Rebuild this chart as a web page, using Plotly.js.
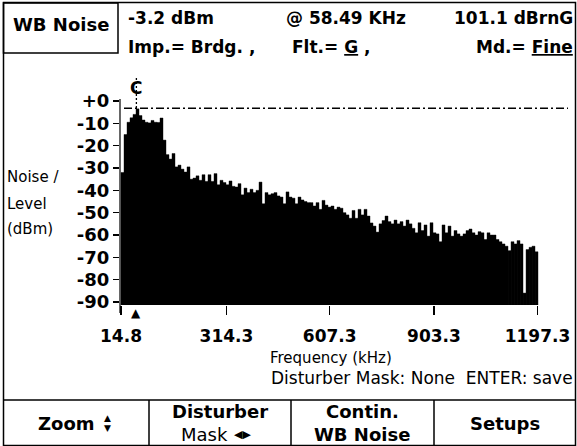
<!DOCTYPE html>
<html>
<head>
<meta charset="utf-8">
<script src="https://cdn.plot.ly/plotly-3.0.1.min.js"></script>
<style>html,body{margin:0;padding:0;background:#fff;}#chart{width:577px;height:446px;}</style>
</head>
<body>
<div id="chart"></div>
<script>
// ---- data ----
const freqStartKHz = 14.8;
const binWidthKHz = 8.518;
const noiseLevelDbm = [
 -32, -15, -9.5, -7.5, -6, -3.5, -6.5, -8.5, -9.5, -9.8,
 -8.7, -9.5, -9.6, -7.6, -17.5, -24, -26, -23.5, -29.5, -28.7,
 -30.5, -31.8, -29.5, -35, -34.5, -33.5, -35.5, -33, -36, -33,
 -36, -32.5, -37.5, -35.5, -36.5, -37.5, -35.8, -38.2, -38.5, -37,
 -42, -39, -41, -39.5, -41, -40, -36.3, -46, -41, -42,
 -41.5, -41, -42.5, -43, -46, -40.7, -43, -43.5, -46, -43,
 -44.3, -45, -45.5, -45.5, -47, -45.5, -48.5, -44.5, -46.6, -47.5,
 -47, -48.5, -47.5, -48, -50, -51, -52.5, -49, -52.5, -48.5,
 -51, -48.5, -51.5, -54.6, -56, -58.7, -55, -53.5, -51.5, -54,
 -55, -53.3, -55, -54, -56, -53.3, -55, -57, -59, -54.5,
 -58, -55.5, -60.5, -54.5, -59, -59.5, -63, -55.5, -59, -56,
 -60.5, -58, -59.5, -60.5, -59.5, -58, -57.3, -59, -60, -58.5,
 -59, -62, -59, -60, -60, -62, -63, -64, -65, -67,
 -63, -64, -62.5, -64, -86, -66.5, -65.5, -65, -67.5
];
const yTickVals = [0, -10, -20, -30, -40, -50, -60, -70, -80, -90];
const yTickText = ['+0', '-10', '-20', '-30', '-40', '-50', '-60', '-70', '-80', '-90'];
const xTickVals = [14.8, 314.3, 607.3, 903.3, 1197.3];
const xTickText = ['14.8', '314.3', '607.3', '903.3', '1197.3'];
const peakLevelDbm = -3.2;
const peakFreqKHz = 58.49;

// ---- layout geometry (pixels) ----
const W = 577, H = 446;
const L = 120, R = 568, T = 92, B = 305;
const YMIN = -91.34, YMAX = 4.03;
const XMIN = 11.96, XMAX = 1283.9;
const px = x => (x - L) / (R - L);
const py = y => (B - y) / (B - T);

const FB = 'DejaVu Sans, Verdana, sans-serif';

const trace = {
  type: 'bar',
  x0: freqStartKHz + binWidthKHz / 2,
  dx: binWidthKHz,
  y: noiseLevelDbm.map(v => v - YMIN),
  base: YMIN,
  marker: {color: '#000', line: {color: '#000', width: 0.4}},
  hoverinfo: 'skip'
};

const lineS = (x0, y0, x1, y1, w) => ({type: 'line', xref: 'paper', yref: 'paper',
  x0: px(x0), y0: py(y0), x1: px(x1), y1: py(y1), line: {color: '#000', width: w || 1}});

const shapes = [
  {type: 'rect', xref: 'paper', yref: 'paper', x0: px(3.5), x1: px(575.5), y0: py(2.5), y1: py(445.5), line: {color: '#000', width: 1.5}},
  {type: 'rect', xref: 'paper', yref: 'paper', x0: px(3.5), x1: px(118), y0: py(3), y1: py(53), line: {color: '#000', width: 1.5}},
  lineS(120, 99, 120, 313, 1.2),
  lineS(3, 400, 576, 400, 1.5),
  lineS(149, 400, 149, 446, 1.5),
  lineS(291, 400, 291, 446, 1.5),
  lineS(434, 400, 434, 446, 1.5),
  {type: 'line', xref: 'paper', yref: 'y', x0: px(124), x1: 1, y0: peakLevelDbm, y1: peakLevelDbm,
   line: {color: '#000', width: 1.5, dash: '8px,3px,2px,3px'}},
  {type: 'line', xref: 'x', yref: 'paper', x0: peakFreqKHz, x1: peakFreqKHz, y0: py(108), y1: py(78),
   line: {color: '#000', width: 1.3, dash: '2px,2px'}}
];

const ann = (text, x, y, opts) => Object.assign({
  text: text, xref: 'paper', yref: 'paper', x: px(x), y: py(y), showarrow: false,
  xanchor: 'left', yanchor: 'middle', font: {family: FB, size: 16, color: '#000'}
}, opts || {});
const bold = (s, size) => ({family: FB, size: size || 16, color: '#000', weight: 'bold'});
const reg = (s) => ({family: FB, size: s || 14, color: '#000'});

const annotations = [
  ann('WB Noise', 61, 25, {xanchor: 'center', font: bold(0, 18)}),
  ann('-3.2 dBm', 126, 18, {font: bold(0, 17)}),
  ann('@ 58.49 KHz', 284, 18, {font: bold(0, 17)}),
  ann('101.1 dBrnG', 575, 18, {xanchor: 'right', font: bold(0, 17)}),
  ann('Imp.= Brdg. ,', 126, 47, {font: bold(0, 17)}),
  ann('Flt.= <u>G</u> ,', 290, 47, {font: bold(0, 17)}),
  ann('Md.= <u>Fine</u>', 575, 47, {xanchor: 'right', font: bold(0, 17)}),
  {text: 'C', xref: 'x', yref: 'paper', x: peakFreqKHz, y: py(88), showarrow: false,
   xanchor: 'center', yanchor: 'middle', font: bold(0, 17)},
  {text: '▲', xref: 'x', yref: 'paper', x: peakFreqKHz, y: py(313), showarrow: false,
   xanchor: 'center', yanchor: 'middle', font: {family: FB, size: 12, color: '#000'}},
  ann('Noise /', 5, 177, {font: reg(15)}),
  ann('Level', 5, 204, {font: reg(15)}),
  ann('(dBm)', 5, 229, {font: reg(15)}),
  ann('Frequency (kHz)', 331, 358, {xanchor: 'center', font: reg(15)}),
  ann('Disturber Mask: None  ENTER: save', 575, 378, {xanchor: 'right', font: reg(17)}),
  ann('Zoom', 66, 423, {xanchor: 'center', font: bold(0, 18)}),
  ann('▲', 107, 418, {xanchor: 'center', font: {family: FB, size: 9, color: '#000'}}),
  ann('▼', 107, 428, {xanchor: 'center', font: {family: FB, size: 9, color: '#000'}}),
  ann('Disturber', 220, 411, {xanchor: 'center', font: bold(0, 18)}),
  ann('Mask', 204, 434, {xanchor: 'center', font: reg(18)}),
  ann('◀▶', 242, 434, {xanchor: 'center', font: {family: FB, size: 11, color: '#000'}}),
  ann('Contin.', 362, 411, {xanchor: 'center', font: bold(0, 18)}),
  ann('WB Noise', 362, 434, {xanchor: 'center', font: bold(0, 18)}),
  ann('Setups', 505, 423, {xanchor: 'center', font: bold(0, 18)})
];

const layout = {
  width: W, height: H,
  margin: {l: L, r: W - R, t: T, b: H - B, pad: 0},
  paper_bgcolor: '#fff', plot_bgcolor: '#fff',
  showlegend: false,
  bargap: 0,
  xaxis: {
    range: [XMIN, XMAX], showgrid: false, zeroline: false, showline: false,
    tickmode: 'array', tickvals: xTickVals, ticktext: xTickText,
    ticks: 'outside', ticklen: 9, tickwidth: 1.2, tickcolor: '#000',
    ticklabelstandoff: 7,
    tickfont: {family: FB, size: 17, color: '#000', weight: 'bold'}
  },
  yaxis: {
    range: [YMIN, YMAX], showgrid: false, zeroline: false, showline: false,
    tickmode: 'array', tickvals: yTickVals, ticktext: yTickText,
    ticks: 'outside', ticklen: 6, tickwidth: 1.2, tickcolor: '#000',
    tickfont: {family: FB, size: 18, color: '#000', weight: 'bold'}
  },
  shapes: shapes,
  annotations: annotations
};

Plotly.newPlot('chart', [trace], layout, {staticPlot: true, displayModeBar: false});
</script>
</body>
</html>
